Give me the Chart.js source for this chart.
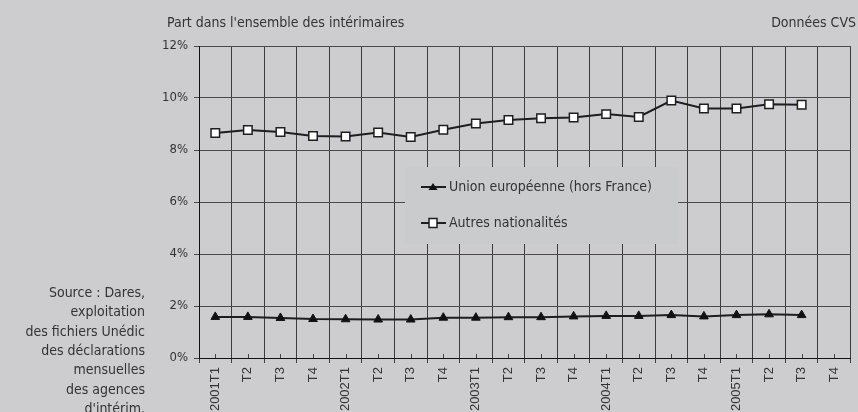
<!DOCTYPE html>
<html>
<head>
<meta charset="utf-8">
<script src="https://cdn.jsdelivr.net/npm/chart.js@4.4.0/dist/chart.umd.min.js"></script>
<style>
html,body{margin:0;padding:0;background:#cdcdcf;}
canvas{display:block;}
</style>
</head>
<body>
<canvas id="c" width="858" height="412"></canvas>
<script>
const categories = ["2001T1","T2","T3","T4","2002T1","T2","T3","T4","2003T1","T2","T3","T4","2004T1","T2","T3","T4","2005T1","T2","T3","T4"];
const seriesNames = ["Union européenne (hors France)", "Autres nationalités"];
const euValues = [1.58,1.58,1.54,1.50,1.49,1.48,1.48,1.55,1.55,1.57,1.57,1.60,1.62,1.62,1.65,1.60,1.65,1.68,1.65];
const autresValues = [8.65,8.77,8.69,8.54,8.52,8.67,8.50,8.78,9.02,9.15,9.22,9.25,9.38,9.27,9.90,9.60,9.60,9.76,9.74];
const yTicks = [0,2,4,6,8,10,12];
const titleLeft = "Part dans l'ensemble des intérimaires";
const titleRight = "Données CVS";
const sourceLines = ["Source : Dares,","exploitation","des fichiers Unédic","des déclarations","mensuelles","des agences","d'intérim."];

const FONT = '"DejaVu Sans Condensed", "DejaVu Sans", sans-serif';
const TXT = '#333333';
const LINE = '#1e1e1e';

const extras = {
  id: 'extras',
  beforeDatasetsDraw(chart) {
    const ctx = chart.ctx, x = chart.scales.x, area = chart.chartArea;
    ctx.save();
    ctx.strokeStyle = '#444';
    ctx.lineWidth = 1;
    for (let i = 0; i < categories.length; i++) {
      const px = Math.round(x.getPixelForValue(i)) + 0.5;
      ctx.beginPath();
      ctx.moveTo(px, area.bottom);
      ctx.lineTo(px, area.bottom - 4);
      ctx.stroke();
    }
    const lx = 405, ly = 167, lw = 273, lh = 77;
    ctx.fillStyle = '#cacbcd';
    ctx.fillRect(lx, ly, lw, lh);
    const rows = [{y: 187, style: 'tri'}, {y: 223, style: 'sq'}];
    rows.forEach((r, k) => {
      ctx.strokeStyle = LINE;
      ctx.lineWidth = 2;
      ctx.beginPath();
      ctx.moveTo(421, r.y);
      ctx.lineTo(446, r.y);
      ctx.stroke();
      if (r.style === 'tri') {
        ctx.fillStyle = '#111';
        ctx.beginPath();
        ctx.moveTo(433, r.y - 4);
        ctx.lineTo(437.5, r.y + 3);
        ctx.lineTo(428.5, r.y + 3);
        ctx.closePath();
        ctx.fill();
      } else {
        ctx.fillStyle = '#fff';
        ctx.fillRect(429, r.y - 4.5, 8, 9);
        ctx.lineWidth = 1.5;
        ctx.strokeStyle = LINE;
        ctx.strokeRect(429, r.y - 4.5, 8, 9);
      }
      ctx.fillStyle = TXT;
      ctx.font = '14px ' + FONT;
      ctx.textAlign = 'left';
      ctx.textBaseline = 'middle';
      ctx.fillText(seriesNames[k], 449, r.y);
    });
    ctx.restore();
  },
  afterDraw(chart) {
    const ctx = chart.ctx;
    ctx.save();
    ctx.fillStyle = TXT;
    ctx.font = '14px ' + FONT;
    ctx.textBaseline = 'alphabetic';
    ctx.textAlign = 'left';
    ctx.fillText(titleLeft, 167, 27);
    ctx.textAlign = 'right';
    ctx.fillText(titleRight, 856, 27);
    sourceLines.forEach((s, i) => ctx.fillText(s, 145, 297 + i * 19.3));
    ctx.restore();
  }
};

new Chart(document.getElementById('c'), {
  type: 'line',
  data: {
    labels: categories,
    datasets: [
      {
        label: seriesNames[0],
        data: euValues,
        borderColor: LINE,
        borderWidth: 2,
        pointStyle: 'triangle',
        pointRadius: 5,
        pointBackgroundColor: '#111',
        pointBorderColor: '#111',
        pointBorderWidth: 1,
        tension: 0
      },
      {
        label: seriesNames[1],
        data: autresValues,
        borderColor: LINE,
        borderWidth: 2,
        pointStyle: 'rect',
        pointRadius: 6,
        pointBackgroundColor: '#ffffff',
        pointBorderColor: LINE,
        pointBorderWidth: 1.5,
        tension: 0
      }
    ]
  },
  options: {
    responsive: false,
    devicePixelRatio: 1,
    animation: false,
    layout: { padding: { top: 46, right: 3, left: 0, bottom: 0 } },
    plugins: { legend: { display: false }, tooltip: { enabled: false } },
    scales: {
      x: {
        offset: true,
        grid: { offset: true, color: '#3c3c3c', lineWidth: 1, tickLength: 5, drawTicks: true },
        border: { display: true, color: '#111', width: 1 },
        ticks: { autoSkip: false, minRotation: 90, maxRotation: 90, padding: 4, color: TXT,
                 font: { family: '"Liberation Sans", Arial, sans-serif', size: 13 } },
        afterFit(s) { s.height = 54; }
      },
      y: {
        min: 0, max: 12,
        afterBuildTicks(s) { s.ticks = yTicks.map(v => ({ value: v })); },
        grid: { color: '#4a4a4a', lineWidth: 1, tickLength: 5 },
        border: { display: true, color: '#111', width: 1 },
        ticks: { padding: 6, color: TXT, callback: v => v + '%',
                 font: { family: FONT, size: 13 } },
        afterFit(s) { s.width = 199; }
      }
    }
  },
  plugins: [extras]
});
</script>
</body>
</html>
